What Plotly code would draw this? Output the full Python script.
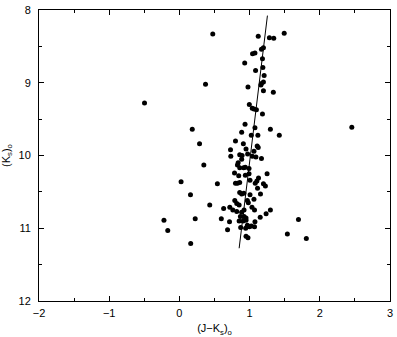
import plotly.graph_objects as go

# (J-Ks)_0 colour and (Ks)_0 magnitude of the stars
jk = [0.475, 1.123, 1.282, 1.344, 1.493, 1.169, 1.197, 1.042, 1.076, 1.183,
      0.930, 1.189, 1.085, 1.207, 0.372, 0.977, 1.169, 1.197, 1.161, 1.197,
      1.338, -0.497, 0.996, 1.038, 1.062, 1.097, 1.183, 0.183, 0.935, 1.076,
      1.296, 1.423, 0.887, 1.024, 1.118, 2.456, 0.287, 0.799, 0.911, 1.108,
      1.123, 0.728, 0.949, 1.062, 0.859, 0.893, 0.972, 0.732, 1.038, 1.090,
      1.169, 0.887, 0.837, 0.827, 0.348, 0.859, 0.915, 0.939, 0.992, 0.785,
      0.845, 0.939, 0.992, 1.249, 1.127, 1.104, 1.080, 1.006, 0.024, 0.541,
      0.799, 0.827, 0.859, 1.197, 1.225, 1.113, 0.158, 0.859, 0.887, 0.918,
      1.006, 1.062, 1.155, 0.789, 0.968, 0.817, 0.851, 0.982, 0.432, 0.630,
      0.718, 0.761, 0.817, 0.887, 0.921, 1.034, 1.070, 1.296, 1.235, 1.151,
      0.869, 0.921, 0.949, 0.851, 0.907, 0.949, 0.597, 0.714, 0.225, -0.220,
      1.076, 0.968, 0.996, 0.944, 0.873, 1.024, 0.686, -0.166, 0.949, 0.977,
      1.538, 0.161, 1.808, 1.696, 1.070]
ks = [8.33, 8.36, 8.38, 8.39, 8.32, 8.54, 8.52, 8.60, 8.59, 8.67,
      8.73, 8.79, 8.83, 8.90, 9.02, 9.06, 9.01, 8.99, 9.03, 9.11,
      9.13, 9.28, 9.30, 9.35, 9.36, 9.37, 9.43, 9.64, 9.57, 9.62,
      9.64, 9.72, 9.68, 9.72, 9.72, 9.61, 9.84, 9.80, 9.84, 9.87,
      9.89, 9.92, 9.91, 9.94, 9.99, 10.00, 9.98, 10.01, 10.01, 10.02,
      10.04, 10.05, 10.10, 10.13, 10.13, 10.17, 10.17, 10.16, 10.18, 10.24,
      10.28, 10.27, 10.25, 10.25, 10.31, 10.35, 10.38, 10.34, 10.36, 10.39,
      10.38, 10.38, 10.37, 10.39, 10.42, 10.45, 10.54, 10.51, 10.53, 10.52,
      10.54, 10.60, 10.53, 10.62, 10.62, 10.66, 10.68, 10.65, 10.68, 10.73,
      10.71, 10.75, 10.77, 10.78, 10.75, 10.71, 10.75, 10.75, 10.80, 10.85,
      10.84, 10.84, 10.86, 10.90, 10.90, 10.89, 10.87, 10.91, 10.87, 10.89,
      10.91, 10.96, 10.98, 11.00, 10.99, 10.97, 11.02, 11.03, 11.11, 11.13,
      11.08, 11.21, 11.14, 10.88, 10.98]

# fitted line end points
fit_x = [0.851, 1.254]
fit_y = [11.275, 8.077]

xticks = [-2, -1, 0, 1, 2, 3]
yticks = [8, 9, 10, 11, 12]

fig = go.Figure()
fig.add_trace(go.Scatter(x=jk, y=ks, mode="markers",
                         marker=dict(color="black", size=5, line=dict(width=0)),
                         showlegend=False))
fig.add_trace(go.Scatter(x=fit_x, y=fit_y, mode="lines",
                         line=dict(color="black", width=1), showlegend=False))

axis_common = dict(showgrid=False, zeroline=False, showline=True, linecolor="black",
                   linewidth=1, mirror="ticks", ticks="inside", ticklen=5,
                   tickcolor="black", tickwidth=1, ticklabeloverflow="allow",
                   tickfont=dict(family="Liberation Sans, Arial", size=11, color="black"))

fig.update_layout(
    width=397, height=337,
    margin=dict(l=39, r=4, t=5, b=36),
    paper_bgcolor="white", plot_bgcolor="white",
    font=dict(family="Liberation Sans, Arial", size=11, color="black"),
    xaxis=dict(range=[-2, 3], tickvals=xticks, ticklabelstandoff=2,
               minor=dict(ticks="inside", ticklen=3, dtick=0.5, tickcolor="black", showgrid=False),
               title=dict(text="(J\u2212K<sub>s</sub>)<sub>o</sub>", standoff=6,
                          font=dict(size=11)),
               **axis_common),
    yaxis=dict(range=[12, 8], tickvals=yticks, ticklabelstandoff=5,
               minor=dict(ticks="inside", ticklen=3, dtick=0.5, tickcolor="black", showgrid=False),
               title=dict(text="(K<sub>s</sub>)<sub>o</sub>", standoff=6,
                          font=dict(size=11)),
               **axis_common),
)

fig.write_html("out.html", config={"displayModeBar": False},
               post_script="document.body.style.margin='0';")
